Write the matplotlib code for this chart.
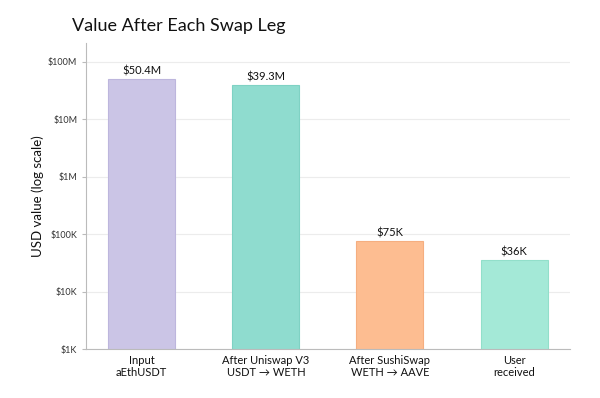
import matplotlib
matplotlib.use('Agg')
import matplotlib.pyplot as plt
from matplotlib.ticker import FixedLocator, NullLocator

plt.rcParams['font.family'] = ['Lato', 'DejaVu Sans']

legs = ['Input\naEthUSDT', 'After Uniswap V3\nUSDT \u2192 WETH',
        'After SushiSwap\nWETH \u2192 AAVE', 'User\nreceived']
values = [50.4e6, 39.3e6, 75e3, 36e3]
value_labels = ['$50.4M', '$39.3M', '$75K', '$36K']
colors = ['#cbc5e6', '#8fdccf', '#fdbd91', '#a4e9d7']
edges = ['#bdb6dd', '#7fd2c4', '#f5ae80', '#92dfca']
ytick_vals = [1e3, 1e4, 1e5, 1e6, 1e7, 1e8]
ytick_labels = ['$1K', '$10K', '$100K', '$1M', '$10M', '$100M']

fig = plt.figure(figsize=(6, 3.98), dpi=100)
ax = fig.add_axes([0.143, 0.123, 0.807, 0.77])

x = range(len(legs))
ax.bar(x, values, width=0.54, color=colors, edgecolor=edges, linewidth=0.8, zorder=2)
ax.set_yscale('log')
ax.set_ylim(1e3, 2.15e8)
ax.set_xlim(-0.45, 3.45)

# value on top of each bar
for i, v in enumerate(values):
    ax.text(i, v * 1.1, value_labels[i], ha='center', va='bottom', fontsize=8,
            color='#111111')

ax.yaxis.set_major_locator(FixedLocator(ytick_vals))
ax.yaxis.set_minor_locator(NullLocator())
ax.set_yticklabels(ytick_labels, fontsize=6.5, color='#333333')
ax.set_xticks(list(x))
ax.set_xticklabels(legs, fontsize=8, color='#111111', linespacing=1.15)
ax.tick_params(axis='x', length=0, pad=4)
ax.tick_params(axis='y', length=3, color='#bbbbbb', pad=3)

ax.grid(axis='y', color='#ececec', linewidth=0.8, zorder=0)
for s in ['top', 'right']:
    ax.spines[s].set_visible(False)
ax.spines['left'].set_color('#bbbbbb')
ax.spines['bottom'].set_color('#bbbbbb')

ax.set_ylabel('USD value (log scale)', fontsize=9.5, color='#111111', labelpad=3)
fig.text(0.12, 0.915, 'Value After Each Swap Leg', fontsize=13, color='#111111',
         ha='left', va='bottom')

fig.savefig('out.png', dpi=100)
